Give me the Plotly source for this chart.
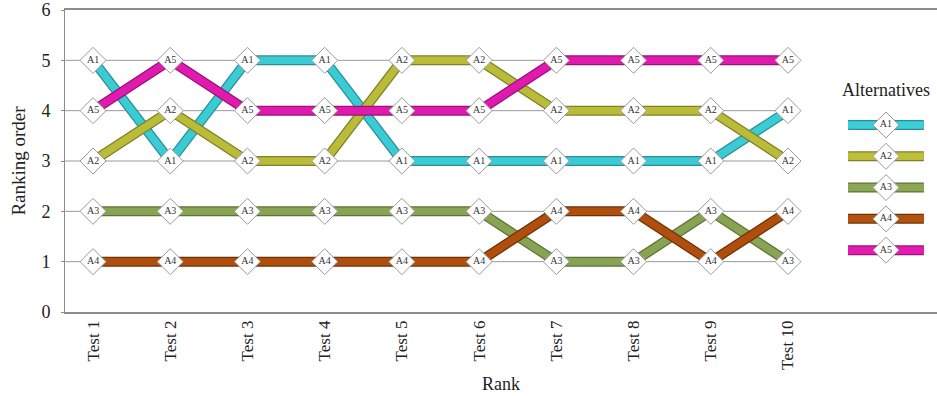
import plotly.graph_objects as go

tests = ["Test 1", "Test 2", "Test 3", "Test 4", "Test 5",
         "Test 6", "Test 7", "Test 8", "Test 9", "Test 10"]
alternatives = ["A1", "A2", "A3", "A4", "A5"]
rank_A1 = [5, 3, 5, 5, 3, 3, 3, 3, 3, 4]
rank_A2 = [3, 4, 3, 3, 5, 5, 4, 4, 4, 3]
rank_A3 = [2, 2, 2, 2, 2, 2, 1, 1, 2, 1]
rank_A4 = [1, 1, 1, 1, 1, 1, 2, 2, 1, 2]
rank_A5 = [4, 5, 4, 4, 4, 4, 5, 5, 5, 5]
ranks = [rank_A1, rank_A2, rank_A3, rank_A4, rank_A5]
grid_levels = [1, 2, 3, 4, 5]

fill_colors = ["#3CCFD8", "#BDBF3A", "#8BA655", "#B4510E", "#E31BB0"]
edge_colors = ["#2A8F96", "#7F8128", "#5E7434", "#6E3208", "#99127A"]

x_pos = list(range(1, len(tests) + 1))
x_lo, x_hi = 0.637, 11.93

fig = go.Figure()

# grid lines (only across the tests)
for g in grid_levels:
    fig.add_shape(type="line", xref="x", yref="y", x0=x_lo, x1=x_pos[-1], y0=g, y1=g,
                  line=dict(color="#9a9a9a", width=1), layer="below")

serif = "Liberation Serif"

# thick bars with outline
for name, r, fc, ec in zip(alternatives, ranks, fill_colors, edge_colors):
    fig.add_trace(go.Scatter(x=x_pos, y=r, mode="lines",
                             line=dict(color=ec, width=10), showlegend=False, hoverinfo="skip"))
    fig.add_trace(go.Scatter(x=x_pos, y=r, mode="lines", opacity=0.95,
                             line=dict(color=fc, width=7.5), showlegend=False, hoverinfo="skip"))

# markers with labels
for name, r in zip(alternatives, ranks):
    fig.add_trace(go.Scatter(x=x_pos, y=r, mode="markers+text",
                             text=[name] * len(r), textposition="middle center",
                             textfont=dict(family=serif, size=10, color="#333333"),
                             marker=dict(symbol="diamond", size=20, color="white",
                                         line=dict(color="#9a9a9a", width=1)),
                             showlegend=False, name=name))

# custom legend on a side axis
leg_x = [0, 1]
for i, (name, fc, ec) in enumerate(zip(alternatives, fill_colors, edge_colors)):
    fig.add_trace(go.Scatter(x=leg_x, y=[i, i], mode="lines", xaxis="x2", yaxis="y2",
                             line=dict(color=ec, width=10), showlegend=False, hoverinfo="skip"))
    fig.add_trace(go.Scatter(x=leg_x, y=[i, i], mode="lines", xaxis="x2", yaxis="y2",
                             line=dict(color=fc, width=7.5), showlegend=False, hoverinfo="skip"))
    fig.add_trace(go.Scatter(x=[0.5], y=[i], mode="markers+text", xaxis="x2", yaxis="y2",
                             text=[name], textposition="middle center",
                             textfont=dict(family=serif, size=10, color="#333333"),
                             marker=dict(symbol="diamond", size=20, color="white",
                                         line=dict(color="#9a9a9a", width=1)),
                             showlegend=False))

fig.add_annotation(text="Alternatives", xref="paper", yref="paper",
                   x=0.9415, y=0.735, showarrow=False, xanchor="center", yanchor="middle",
                   font=dict(family=serif, size=18, color="#222222"))

fig.update_layout(
    width=937, height=396,
    margin=dict(l=65, r=0, t=10, b=84),
    paper_bgcolor="white", plot_bgcolor="white",
    font=dict(family=serif, color="#222222"),
    xaxis=dict(range=[x_lo, x_hi], tickvals=x_pos, ticktext=tests, tickangle=-90,
               tickfont=dict(family=serif, size=17, color="#222222"),
               showgrid=False, zeroline=False, showline=True, linecolor="#8c8c8c",
               linewidth=1.5, mirror=True, ticks="", automargin=False,
               title=dict(text="Rank", font=dict(family=serif, size=18), standoff=9)),
    yaxis=dict(range=[0, 6], tickvals=[0, 1, 2, 3, 4, 5, 6],
               tickfont=dict(family=serif, size=18, color="#222222"),
               showgrid=False, zeroline=False, showline=True, linecolor="#8c8c8c",
               linewidth=1, ticks="outside", ticklen=3, tickcolor="#8c8c8c", automargin=False,
               ticklabeloverflow="allow", ticklabelstandoff=7,
               title=dict(text="Ranking order", font=dict(family=serif, size=19), standoff=10)),
    xaxis2=dict(domain=[0.898, 0.985], range=[0, 1], visible=False, anchor="y2"),
    yaxis2=dict(domain=[0.153, 0.671], range=[4.5, -0.5], visible=False, anchor="x2"),
)

fig.write_html("out.html", config={"displayModeBar": False},
               post_script="document.body.style.margin='0';document.body.style.overflow='hidden';")
